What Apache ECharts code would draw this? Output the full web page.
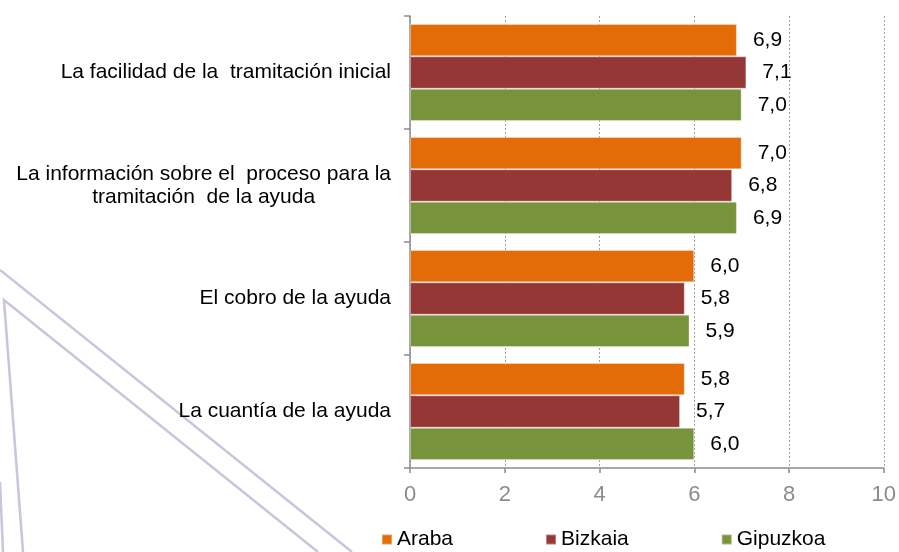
<!DOCTYPE html>
<html>
<head>
<meta charset="utf-8">
<script src="https://cdn.jsdelivr.net/npm/echarts@6/dist/echarts.min.js"></script>
<style>
  html, body { margin: 0; padding: 0; background: #fff; }
  #main { width: 899px; height: 552px; }
</style>
</head>
<body>
<div id="main"></div>
<script>
const categories = [
  'La facilidad de la  tramitación inicial',
  'La información sobre el  proceso para la\ntramitación  de la ayuda',
  'El cobro de la ayuda',
  'La cuantía de la ayuda'
];
const araba = [6.9, 7.0, 6.0, 5.8];
const bizkaia = [7.1, 6.8, 5.8, 5.7];
const gipuzkoa = [7.0, 6.9, 5.9, 6.0];
const xTicks = [0, 2, 4, 6, 8, 10];

const font = '"Liberation Sans", Arial, sans-serif';
const myChart = echarts.init(document.getElementById('main'));

function barSeries(name, data, color) {
  return {
    name: name,
    type: 'bar',
    data: data,
    barGap: 0,
    barCategoryGap: '14%',
    itemStyle: { color: color, borderColor: 'rgba(255,255,255,0.35)', borderWidth: 1 },
    label: {
      show: true,
      position: 'right',
      distance: 16,
      color: '#000',
      fontFamily: font,
      fontSize: 21,
      formatter: p => p.value.toFixed(1).replace('.', ',')
    }
  };
}

// fondo: lineas decorativas
const deco = { stroke: '#c6c6dc', lineWidth: 2.5, fill: null };

const option = {
  animation: false,
  backgroundColor: '#fff',
  textStyle: { fontFamily: font },
  graphic: [
    { type: 'polyline', silent: true, z: -1, shape: { points: [[0, 270], [352, 552]] }, style: deco },
    { type: 'polyline', silent: true, z: -1, shape: { points: [[23, 552], [4, 300], [318, 552]] }, style: deco },
    { type: 'polyline', silent: true, z: -1, shape: { points: [[0, 482], [3, 552]] }, style: deco }
  ],
  legend: {
    left: 381,
    top: 529,
    padding: 0,
    icon: 'rect',
    itemWidth: 10,
    itemHeight: 10,
    itemGap: 92,
    textStyle: { color: '#000', fontSize: 21, fontFamily: font }
  },
  grid: { left: 410, right: 12, top: 16, bottom: 84 },
  xAxis: {
    type: 'value',
    min: 0,
    max: 10,
    interval: 2,
    axisLine: { show: true, lineStyle: { color: '#8c8c8c', width: 1.5 } },
    axisTick: { show: true, length: 5, lineStyle: { color: '#8c8c8c', width: 1.5 } },
    axisLabel: {
      color: '#8c8c8c',
      fontSize: 22,
      fontFamily: font,
      margin: 16,
      formatter: v => xTicks.includes(v) ? String(v) : ''
    },
    splitLine: { show: true, lineStyle: { color: '#a0a0a0', type: [2, 2], width: 1 } }
  },
  yAxis: {
    type: 'category',
    inverse: true,
    data: categories,
    axisLine: { show: true, lineStyle: { color: '#8c8c8c', width: 1.5 } },
    axisTick: { show: true, length: 6, lineStyle: { color: '#8c8c8c', width: 1.5 } },
    axisLabel: {
      color: '#000',
      fontSize: 21,
      fontFamily: font,
      margin: 19,
      lineHeight: 23,
      formatter: v => v.split('\n').map(s => '{c|' + s + '}').join('\n'),
      rich: { c: { align: 'center', color: '#000', fontSize: 21, fontFamily: font, lineHeight: 23 } }
    }
  },
  series: [
    barSeries('Araba', araba, '#E36C09'),
    barSeries('Bizkaia', bizkaia, '#953735'),
    barSeries('Gipuzkoa', gipuzkoa, '#77933C')
  ]
};

myChart.setOption(option);
</script>
</body>
</html>
